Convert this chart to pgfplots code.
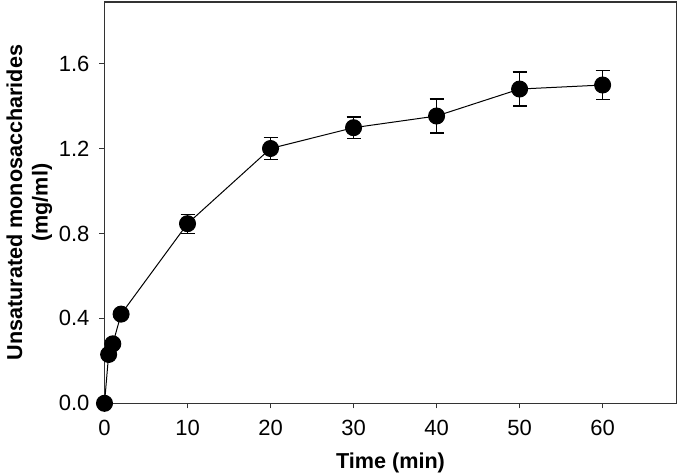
\documentclass[border=0pt]{standalone}
\usepackage{pgfplots}
\pgfplotsset{compat=1.18}
\usepackage{fontspec}
\setmainfont{Liberation Sans}

\begin{document}
\begin{tikzpicture}
    \path[use as bounding box] (-52.25pt,-36.35pt) rectangle (287.75pt,201.65pt);
    \begin{axis}[
            scale only axis,
            width=286pt,
            height=200.65pt,
            xmin=0, xmax=68.9,
            ymin=0, ymax=1.89,
            xtick={0,10,...,60},
            ytick={0,0.4,...,1.6},
            yticklabel style={xshift=-1.5pt, /pgf/number format/.cd, fixed, fixed zerofill, precision=1},
            /pgf/number format/assume math mode=true,
            tick label style={font=\fontsize{11}{13}\selectfont},
            xticklabel style={yshift=-2.5pt},
            tick align=outside,
            xtick pos=left,
            ytick pos=left,
            major tick length=2.5pt,
            axis line style={line width=0.6pt, black!80},
            every tick/.style={black!80, line width=0.6pt},
            xlabel={Time (min)},
            ylabel={Unsaturated monosaccharides\\[2pt](mg/ml)},
            label style={font=\fontsize{10.8}{10.8}\selectfont\bfseries},
            ylabel style={align=center, at={(axis description cs:-0.079,0.5)}, anchor=south},
            xlabel style={at={(axis description cs:0.5,0)}, anchor=north, yshift=-21pt},
            clip=false,
        ]
        \addplot[black, line width=0.5pt, mark=*, mark size=4pt,
            mark options={fill=black},
            error bars/.cd, y dir=both, y explicit,
            error bar style={line width=0.6pt, black},
            error mark options={rotate=90, mark size=3.5pt, line width=0.6pt}]
            coordinates {
                (0,0) +- (0,0)
                (0.5,0.23) +- (0,0)
                (1,0.28) +- (0,0)
                (2,0.42) +- (0,0)
                (10,0.846) +- (0,0.045)
                (20,1.2) +- (0,0.05)
                (30,1.298) +- (0,0.05)
                (40,1.353) +- (0,0.08)
                (50,1.48) +- (0,0.08)
                (60,1.499) +- (0,0.07)
            };
    \end{axis}
\end{tikzpicture}
\end{document}
